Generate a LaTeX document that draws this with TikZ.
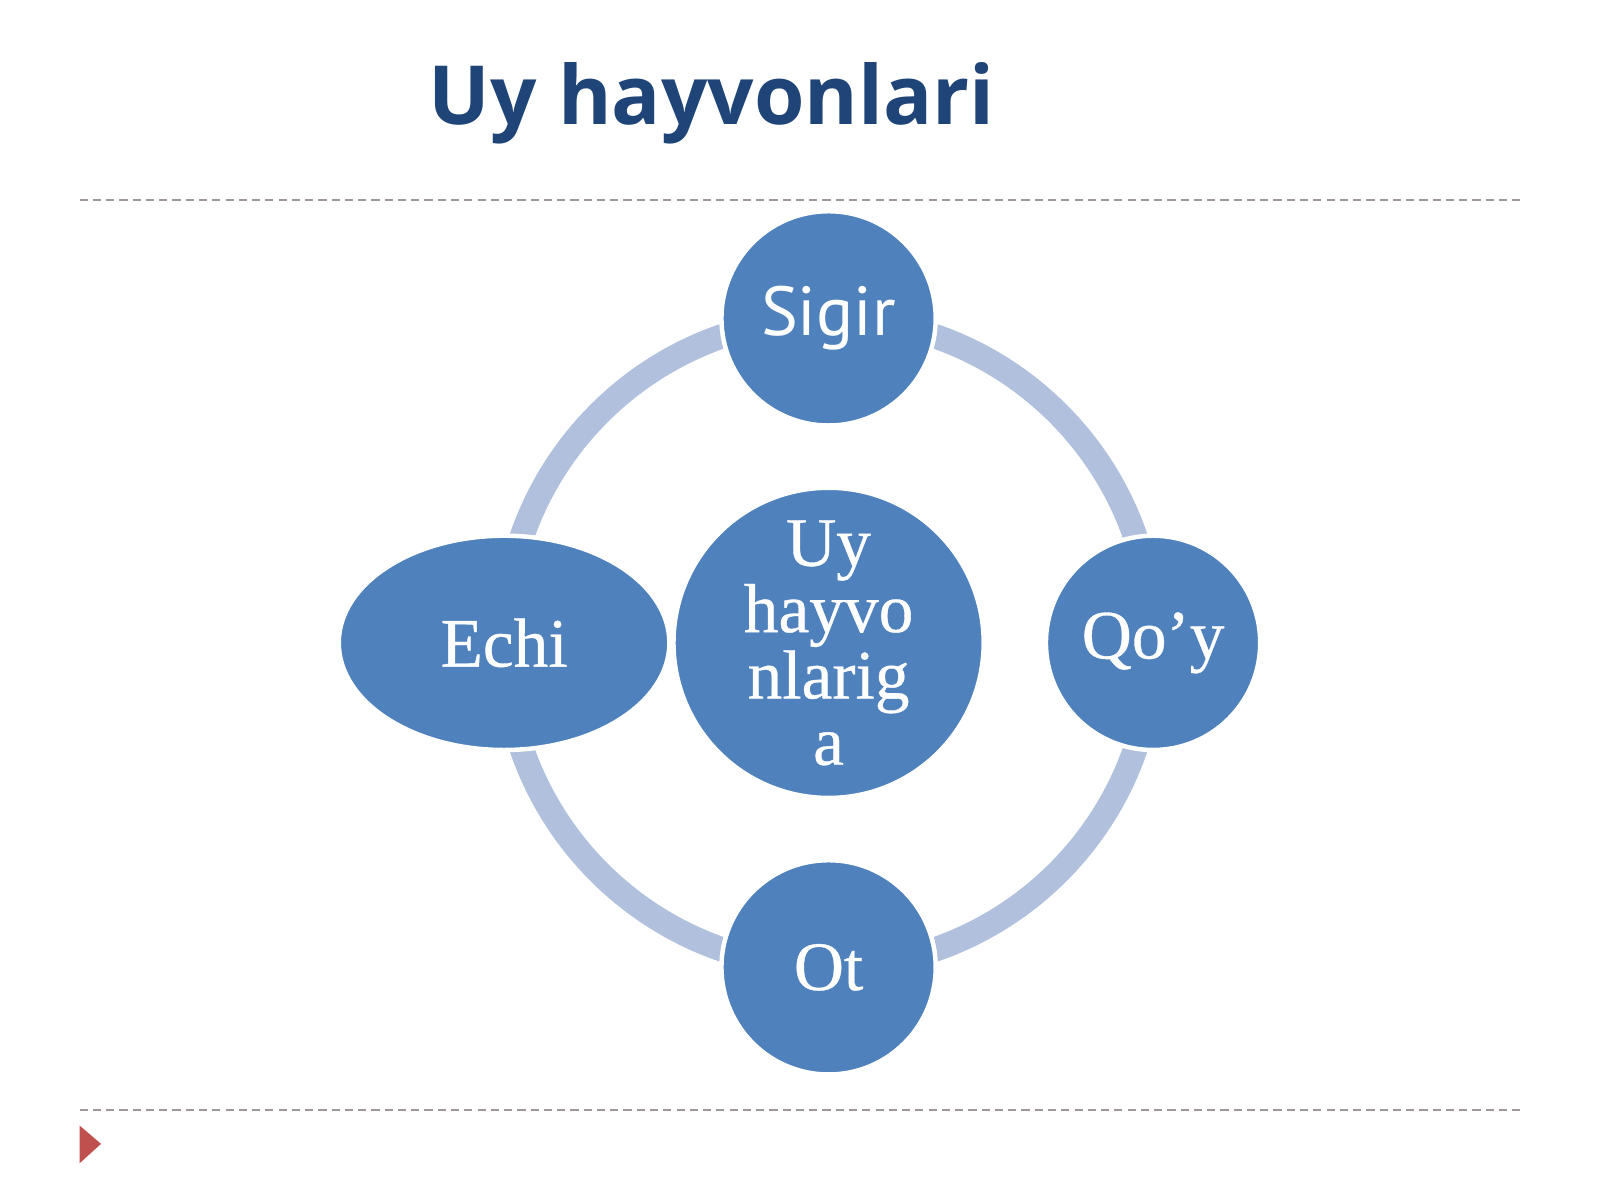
\documentclass[tikz,border=0pt]{standalone}
\usepackage{fontspec}
\setmainfont{Liberation Serif}[FakeBold=0.5]
\newfontfamily\titlefont{Open Sans}
\newfontfamily\labelsans{PT Sans}
\usetikzlibrary{shapes.geometric}
\definecolor{titleblue}{HTML}{1F4478}
\definecolor{nodeblue}{HTML}{4F81BD}
\definecolor{ringblue}{HTML}{B0C0DD}
\definecolor{dashgray}{HTML}{A09898}
\definecolor{arrowred}{HTML}{C0504D}
\begin{document}
\begin{tikzpicture}[x=0.5pt,y=-0.5pt,
  disc/.style={circle, fill=nodeblue, draw=white, line width=2.2pt, minimum size=105pt, inner sep=0pt, text=white},
  bubble/.style={disc, align=center, font=\fontsize{34}{32.5}\selectfont},
  sansbubble/.style={disc, font=\labelsans\fontsize{34}{40}\selectfont},
  oval/.style={ellipse, fill=nodeblue, draw=white, line width=2.2pt, minimum width=162pt, minimum height=105pt, inner sep=0pt, text=white, align=center, font=\fontsize{34}{32.5}\selectfont},
  sepline/.style={dashgray, line width=0.9pt, dash pattern=on 4pt off 2.5pt}]
\useasboundingbox (0,0) rectangle (1568,1176);
\node[anchor=base west, inner sep=0pt, text=titleblue, font=\titlefont\bfseries\fontsize{40}{48}\selectfont] (title) at (420,122) {Uy hayvonlari};
\draw[sepline] (78,196) -- (1490,196);
\draw[sepline] (78,1088) -- (1490,1088);
\fill[arrowred] (78,1103) -- (78,1140) -- (99,1121) -- cycle;
\coordinate (c) at (812,630);
\draw[ringblue, line width=12pt] (c) circle [radius=318];
\node[bubble, minimum size=152pt] (center) at (c) {Uy\\hayvo\\nlarig\\a};
\node[sansbubble] (sigir) at (812,312) {Sigir};
\node[bubble] (qoy) at (1130,630) {Qo’y};
\node[bubble] (ot) at (812,948) {Ot};
\node[oval] (echi) at (494,630) {Echi};
\end{tikzpicture}
\end{document}
